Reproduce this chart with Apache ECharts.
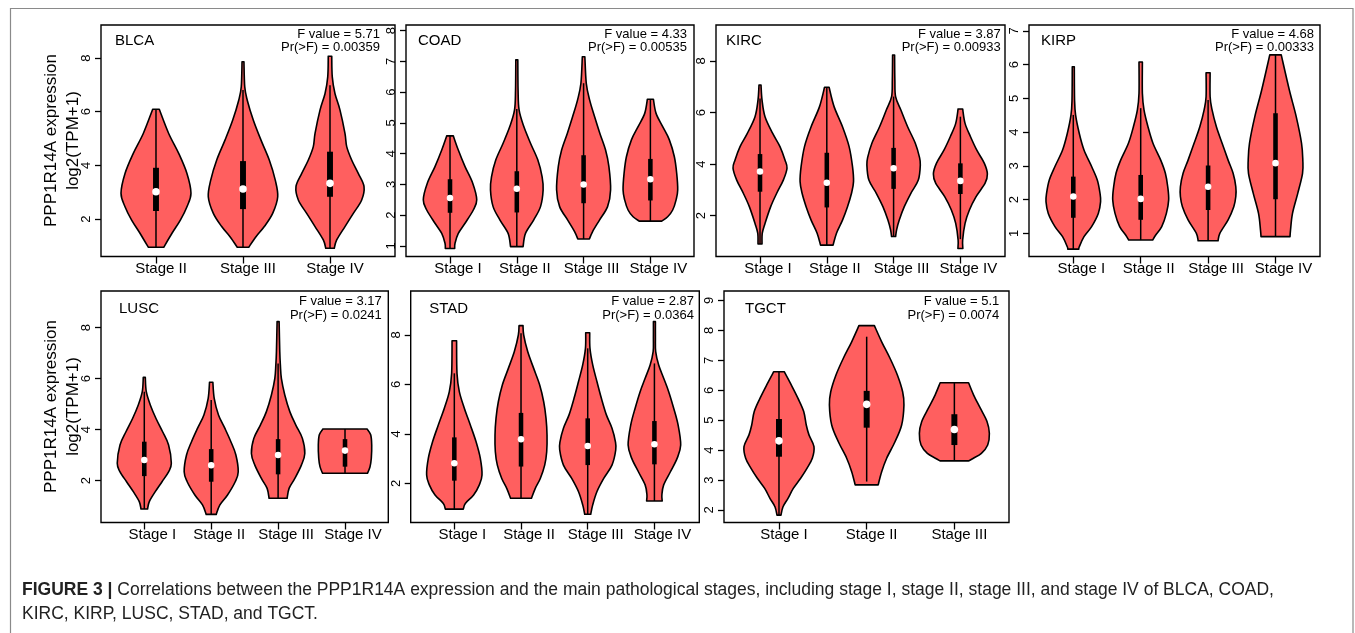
<!DOCTYPE html>
<html><head><meta charset="utf-8">
<script src="https://cdn.jsdelivr.net/npm/echarts@6/dist/echarts.min.js"></script>
<style>html,body{margin:0;padding:0;background:#fff}#c{width:1355px;height:633px}</style>
</head><body><div id="c"></div>
<script>
// ---------------- DATA ----------------
const panelNames = ['BLCA', 'COAD', 'KIRC', 'KIRP', 'LUSC', 'STAD', 'TGCT'];
const stageLabels = [
  ['Stage II', 'Stage III', 'Stage IV'],
  ['Stage I', 'Stage II', 'Stage III', 'Stage IV'],
  ['Stage I', 'Stage II', 'Stage III', 'Stage IV'],
  ['Stage I', 'Stage II', 'Stage III', 'Stage IV'],
  ['Stage I', 'Stage II', 'Stage III', 'Stage IV'],
  ['Stage I', 'Stage II', 'Stage III', 'Stage IV'],
  ['Stage I', 'Stage II', 'Stage III']
];
const fValues = ['5.71', '4.33', '3.87', '4.68', '3.17', '2.87', '5.1'];
const pValues = ['0.00359', '0.00535', '0.00933', '0.00333', '0.0241', '0.0364', '0.0074'];
const yTickValues = [
  [2, 4, 6, 8], [1, 2, 3, 4, 5, 6, 7, 8], [2, 4, 6, 8], [1, 2, 3, 4, 5, 6, 7],
  [2, 4, 6, 8], [2, 4, 6, 8], [2, 3, 4, 5, 6, 7, 8, 9]
];
const medians = [
  [3.02, 3.12, 3.33], [2.56, 2.86, 3.00, 3.17], [3.71, 3.28, 3.84, 3.35], [2.09, 2.02, 2.38, 3.08],
  [2.81, 2.61, 3.01, 3.18], [2.81, 3.78, 3.51, 3.58], [4.31, 5.53, 4.69]
];
const q1s = [
  [2.30, 2.37, 2.83], [2.08, 2.09, 2.39, 2.48], [2.93, 2.32, 3.04, 2.84], [1.46, 1.40, 1.69, 2.01],
  [2.18, 1.96, 2.25, 2.55], [2.11, 2.68, 2.74, 2.77], [3.78, 4.75, 4.17]
];
const q3s = [
  [3.91, 4.16, 4.51], [3.17, 3.43, 3.95, 3.83], [4.39, 4.44, 4.63, 4.03], [2.68, 2.73, 3.01, 4.56],
  [3.53, 3.24, 3.63, 3.63], [3.86, 4.85, 4.63, 4.52], [5.04, 5.98, 5.20]
];
const whiskerLow = [
  [0.95, 0.95, 0.91], [0.92, 0.98, 1.23, 1.81], [0.90, 0.86, 1.19, 1.09], [0.53, 0.80, 0.78, 0.90],
  [0.89, 0.68, 1.31, 2.29], [0.96, 1.40, 0.75, 1.29], [1.83, 2.95, 3.64]
];
const whiskerHigh = [
  [6.09, 6.81, 6.99], [4.58, 5.45, 6.29, 5.77], [6.55, 6.98, 6.62, 5.84], [4.51, 4.71, 4.95, 6.29],
  [5.49, 5.16, 6.60, 4.03], [6.45, 8.07, 7.46, 6.85], [6.62, 7.79, 6.25]
];
// violin outline: expression levels (top -> bottom) and half widths (category units)
const violinLevels = [
  [[6.09,5.19,4.45,3.70,2.96,2.46,1.96,1.47,0.95],
   [7.86,6.93,6.43,5.69,4.94,4.20,3.45,2.83,2.21,1.72,1.34,0.95],
   [8.07,7.30,6.68,6.06,5.19,4.70,4.20,3.70,3.21,2.71,2.21,1.72,1.22,0.91]],
  [[4.58,4.12,3.58,3.04,2.50,2.17,1.74,1.41,1.09,0.92],
   [7.05,6.07,5.42,4.88,4.34,3.80,3.25,2.82,2.28,1.85,1.41,0.98],
   [7.15,6.29,5.75,5.20,4.66,4.12,3.58,2.82,2.28,1.85,1.47,1.23],
   [5.77,5.31,4.88,4.45,3.90,3.36,2.82,2.50,2.17,1.95,1.81]],
  [[7.07,6.49,5.84,5.19,4.68,4.16,3.84,3.38,2.87,2.35,1.70,1.32,0.90],
   [6.98,6.23,5.45,4.68,3.90,3.32,2.87,2.35,1.83,1.32,0.86],
   [8.23,7.26,6.62,6.10,5.45,4.81,4.29,3.97,3.38,2.87,2.35,1.83,1.45,1.19],
   [6.14,5.58,5.07,4.55,4.03,3.62,3.26,2.74,2.22,1.70,1.06,0.73]],
  [[5.94,4.95,4.51,3.96,3.47,2.98,2.58,2.19,1.94,1.59,1.20,0.90,0.60,0.53],
   [6.08,5.15,4.66,4.16,3.67,3.17,2.78,2.38,1.99,1.59,1.20,0.95,0.80],
   [5.76,5.05,4.66,4.16,3.67,3.17,2.78,2.38,2.09,1.79,1.40,1.00,0.78],
   [6.29,5.25,4.46,3.67,3.17,2.78,2.19,1.59,1.10,0.90]],
  [[6.05,5.49,4.97,4.44,3.92,3.40,2.68,2.35,1.96,1.57,1.18,0.89],
   [5.86,5.23,4.58,4.05,3.53,3.01,2.35,1.96,1.44,1.05,0.68],
   [8.24,7.06,6.54,6.01,5.36,4.71,4.18,3.66,3.07,2.61,2.09,1.70,1.31],
   [4.03,3.80,3.40,2.88,2.55,2.29]],
  [[7.77,6.45,5.71,5.04,4.36,3.69,3.01,2.34,1.94,1.53,1.19,0.96],
   [8.38,8.00,7.33,6.65,5.98,5.30,4.63,3.96,3.28,2.74,2.20,1.80,1.40],
   [8.09,7.46,6.79,6.11,5.44,4.77,4.23,3.69,3.35,2.74,2.20,1.67,1.13,0.75],
   [8.54,7.87,7.33,6.79,6.25,5.71,5.04,4.36,3.55,3.01,2.47,1.94,1.53,1.29]],
  [[6.62,6.18,5.73,5.29,4.84,4.51,4.12,3.73,3.39,3.06,2.72,2.39,2.11,1.83],
   [8.16,7.62,7.07,6.51,5.95,5.51,4.84,4.28,3.73,3.28,2.84],
   [6.25,5.84,5.40,4.95,4.56,4.17,3.89,3.73,3.64]]
];
const violinHalfWidths = [
  [[0.038,0.146,0.261,0.356,0.402,0.356,0.280,0.184,0.089],
   [0.011,0.020,0.049,0.118,0.207,0.302,0.371,0.399,0.341,0.245,0.149,0.066],
   [0.020,0.026,0.057,0.115,0.172,0.192,0.249,0.325,0.391,0.364,0.268,0.172,0.077,0.049]],
  [[0.049,0.124,0.225,0.340,0.400,0.349,0.225,0.124,0.075,0.070],
   [0.015,0.019,0.034,0.105,0.205,0.314,0.379,0.394,0.355,0.254,0.130,0.094],
   [0.019,0.040,0.090,0.165,0.244,0.329,0.379,0.404,0.359,0.240,0.135,0.087],
   [0.045,0.085,0.184,0.284,0.359,0.394,0.409,0.385,0.334,0.259,0.169]],
  [[0.015,0.030,0.075,0.190,0.299,0.374,0.404,0.349,0.250,0.160,0.075,0.034,0.030],
   [0.034,0.109,0.235,0.334,0.385,0.400,0.370,0.310,0.235,0.145,0.094],
   [0.015,0.019,0.030,0.109,0.210,0.325,0.385,0.400,0.370,0.259,0.160,0.085,0.045,0.030],
   [0.034,0.070,0.150,0.244,0.359,0.404,0.370,0.235,0.135,0.070,0.034,0.037]],
  [[0.015,0.019,0.034,0.089,0.159,0.272,0.356,0.396,0.405,0.371,0.272,0.159,0.089,0.082],
   [0.025,0.025,0.049,0.108,0.182,0.297,0.366,0.401,0.415,0.381,0.312,0.223,0.178],
   [0.030,0.030,0.059,0.123,0.208,0.297,0.371,0.411,0.411,0.381,0.297,0.174,0.148],
   [0.085,0.205,0.307,0.386,0.405,0.401,0.331,0.252,0.223,0.215]],
  [[0.015,0.030,0.090,0.175,0.274,0.363,0.404,0.363,0.265,0.164,0.075,0.049],
   [0.025,0.045,0.109,0.205,0.294,0.369,0.404,0.359,0.244,0.130,0.075],
   [0.015,0.025,0.034,0.049,0.100,0.175,0.265,0.363,0.399,0.348,0.250,0.164,0.135],
   [0.329,0.384,0.399,0.393,0.374,0.336]],
  [[0.034,0.040,0.075,0.150,0.240,0.325,0.390,0.415,0.375,0.289,0.165,0.135],
   [0.030,0.040,0.100,0.190,0.280,0.340,0.375,0.390,0.385,0.355,0.289,0.214,0.157],
   [0.030,0.034,0.075,0.139,0.205,0.280,0.364,0.415,0.420,0.364,0.240,0.139,0.075,0.045],
   [0.015,0.015,0.019,0.064,0.139,0.214,0.289,0.355,0.394,0.340,0.240,0.139,0.112,0.117]],
  [[0.060,0.140,0.217,0.282,0.311,0.342,0.399,0.380,0.319,0.247,0.163,0.103,0.046,0.023],
   [0.088,0.171,0.266,0.350,0.410,0.425,0.399,0.323,0.228,0.171,0.131],
   [0.162,0.220,0.296,0.373,0.399,0.380,0.308,0.217,0.163]]
];
const yAxisTitle = ['PPP1R14A expression', 'log2(TPM+1)'];
const captionBold = 'FIGURE 3 |';
const captionLine1 = ' Correlations between the PPP1R14A expression and the main pathological stages, including stage I, stage II, stage III, and stage IV of BLCA, COAD,';
const captionLine2 = 'KIRC, KIRP, LUSC, STAD, and TGCT.';

// ---------------- LAYOUT ----------------
const gridBoxes = [
  [101, 25, 294, 231.5], [406, 25, 288, 231.5], [716, 25, 289, 231.5], [1029, 25, 291, 231.5],
  [101, 291, 287.3, 231.5], [410.7, 291, 288.6, 231.5], [724, 291, 285, 231.5]
];
const xRanges = [[0.368, 3.747], [0.341, 4.653], [0.341, 4.668], [0.343, 4.660], [0.353, 4.647], [0.346, 4.673], [0.373, 3.623]];
const yRanges = [[0.604, 9.232], [0.659, 8.182], [0.417, 9.396], [0.312, 7.176], [0.361, 9.439], [0.418, 9.779], [1.582, 9.317]];
const titleOffsets = [[14, 16], [12, 16], [10, 16], [12, 16], [18, 18.3], [18.6, 18.3], [21, 18.3]];
const fOffsets = [[15, 9], [7, 9], [4.3, 9], [6, 9], [6.6, 10.7], [5.3, 10.7], [9.7, 10.7]];
const labelShift = [10, 16, 16, 16, 16, 16, 10];
const FONT = '"Liberation Sans", Arial, Helvetica, sans-serif';
const VIOLIN = '#ff5f5f';

function curve(pts) {
  let s = '';
  const n = pts.length;
  for (let i = 0; i < n - 1; i++) {
    const p0 = pts[Math.max(i - 1, 0)], p1 = pts[i], p2 = pts[i + 1], p3 = pts[Math.min(i + 2, n - 1)];
    const c1 = [p1[0] + (p2[0] - p0[0]) / 6, p1[1] + (p2[1] - p0[1]) / 6];
    const c2 = [p2[0] - (p3[0] - p1[0]) / 6, p2[1] - (p3[1] - p1[1]) / 6];
    s += ' C' + c1[0].toFixed(2) + ',' + c1[1].toFixed(2) + ' ' + c2[0].toFixed(2) + ',' + c2[1].toFixed(2) + ' ' + p2[0].toFixed(2) + ',' + p2[1].toFixed(2);
  }
  return s;
}

function makeRender(p) {
  return function (params, api) {
    const k = params.dataIndex;
    const c = api.value(0);
    const lv = violinLevels[p][k], hw = violinHalfWidths[p][k];
    const right = lv.map((v, i) => api.coord([c + hw[i], v]));
    const left = lv.map((v, i) => api.coord([c - hw[i], v]));
    const n = lv.length;
    const leftUp = left.slice().reverse();
    const d = 'M' + left[0][0] + ',' + left[0][1] + ' L' + right[0][0] + ',' + right[0][1] +
      curve(right) + ' L' + left[n - 1][0] + ',' + left[n - 1][1] + curve(leftUp) + ' Z';
    const ctr = api.coord([c, medians[p][k]]);
    const bw = Math.abs(api.coord([c + 0.034, 0])[0] - api.coord([c - 0.034, 0])[0]);
    const spacing = Math.abs(api.coord([c + 1, 0])[0] - ctr[0]);
    const top = api.coord([c, q3s[p][k]])[1], bot = api.coord([c, q1s[p][k]])[1];
    const wt = api.coord([c, whiskerHigh[p][k]])[1], wb = api.coord([c, whiskerLow[p][k]])[1];
    return {
      type: 'group',
      children: [
        { type: 'path', shape: { pathData: d }, style: { fill: VIOLIN, stroke: '#000', lineWidth: 1.6, lineJoin: 'round' } },
        { type: 'line', shape: { x1: ctr[0], y1: wt, x2: ctr[0], y2: wb }, style: { stroke: '#000', lineWidth: 1.5 } },
        { type: 'rect', shape: { x: ctr[0] - bw / 2, y: top, width: bw, height: bot - top }, style: { fill: '#000' } },
        { type: 'circle', shape: { cx: ctr[0], cy: ctr[1], r: 1.6 + 0.025 * spacing }, style: { fill: '#fff' } }
      ]
    };
  };
}

const grids = [], xAxes = [], yAxes = [], series = [], graphics = [];
panelNames.forEach((name, p) => {
  const [gl, gt, gw, gh] = gridBoxes[p];
  grids.push({ left: gl, top: gt, width: gw, height: gh, show: true, borderColor: '#000', borderWidth: 1.4, backgroundColor: 'transparent' });
  const xt = stageLabels[p].map((s, i) => i + 1);
  xAxes.push({
    gridIndex: p, type: 'value', min: xRanges[p][0], max: xRanges[p][1],
    axisLine: { show: false }, splitLine: { show: false },
    axisTick: { show: true, length: 7, customValues: xt, lineStyle: { color: '#000', width: 1.3 } },
    axisLabel: { customValues: xt, formatter: v => stageLabels[p][Math.round(v) - 1], fontSize: 15, color: '#000', fontFamily: FONT, margin: 5, padding: [0, 0, 0, labelShift[p]] }
  });
  yAxes.push({
    gridIndex: p, type: 'value', min: yRanges[p][0], max: yRanges[p][1],
    axisLine: { show: false }, splitLine: { show: false },
    axisTick: { show: true, length: 6, customValues: yTickValues[p], lineStyle: { color: '#000', width: 1.3 } },
    axisLabel: { customValues: yTickValues[p], rotate: 90, fontSize: 13, color: '#000', fontFamily: FONT, margin: 8 }
  });
  series.push({
    type: 'custom', xAxisIndex: p, yAxisIndex: p, clip: false,
    data: stageLabels[p].map((s, i) => [i + 1, medians[p][i]]),
    encode: { x: 0, y: 1 },
    renderItem: makeRender(p)
  });
  graphics.push({ type: 'text', x: gl + titleOffsets[p][0], y: gt + titleOffsets[p][1],
    style: { text: name, font: '15px ' + FONT, fill: '#000', verticalAlign: 'middle' } });
  graphics.push({ type: 'text', x: gl + gw - fOffsets[p][0], y: gt + fOffsets[p][1],
    style: { text: 'F value = ' + fValues[p], font: '13px ' + FONT, fill: '#000', align: 'right', verticalAlign: 'middle' } });
  graphics.push({ type: 'text', x: gl + gw - fOffsets[p][0], y: gt + fOffsets[p][1] + 13.5,
    style: { text: 'Pr(>F) = ' + pValues[p], font: '13px ' + FONT, fill: '#000', align: 'right', verticalAlign: 'middle' } });
});

// y axis titles for the two rows
[140.5, 406.5].forEach(cy => {
  graphics.push({ type: 'text', x: 51.5, y: cy, rotation: Math.PI / 2,
    style: { text: yAxisTitle[0], font: '17px ' + FONT, fill: '#000', align: 'center', verticalAlign: 'middle' } });
  graphics.push({ type: 'text', x: 73, y: cy, rotation: Math.PI / 2,
    style: { text: yAxisTitle[1], font: '17px ' + FONT, fill: '#000', align: 'center', verticalAlign: 'middle' } });
});
// outer frame
graphics.push({ type: 'rect', shape: { x: 10.5, y: 8.5, width: 1342.5, height: 640 }, style: { fill: 'none', stroke: '#8a8a8a', lineWidth: 1.2 }, z: -1 });
// caption
graphics.push({ type: 'text', x: 22, y: 590,
  style: { rich: { b: { fontWeight: 'bold', fontSize: 17.5, fontFamily: FONT, fill: '#222' }, n: { fontSize: 17.5, fontFamily: FONT, fill: '#222' } },
    text: '{b|' + captionBold + '}{n|' + captionLine1 + '}', verticalAlign: 'middle' } });
graphics.push({ type: 'text', x: 22, y: 614,
  style: { text: captionLine2, font: '17.5px ' + FONT, fill: '#222', verticalAlign: 'middle' } });

const chart = echarts.init(document.getElementById('c'), null, { renderer: 'canvas' });
chart.setOption({
  animation: false,
  backgroundColor: '#fff',
  grid: grids, xAxis: xAxes, yAxis: yAxes, series: series,
  graphic: { elements: graphics }
});
</script></body></html>
